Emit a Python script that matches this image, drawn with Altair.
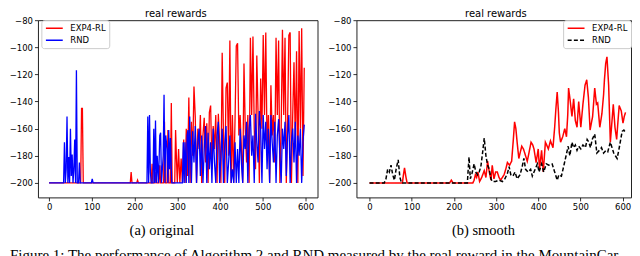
import altair as alt
import pandas as pd

# ---------------- data: (a) original ----------------
SERIES = ["EXP4-RL", "RND"]

orig_red_x_early = [0, 74, 76, 78, 80, 190, 192, 194, 205, 207, 209, 239, 241, 243,
                    248, 250, 252, 257, 259, 261, 268, 270, 272, 276, 278, 280,
                    284, 286, 288, 294, 296, 298]
orig_red_y_early = [-200, -200, -145, -145, -200, -200, -192, -200, -200, -198, -200, -200, -186, -200,
                    -200, -192, -200, -200, -187, -200, -200, -155, -200, -200, -161, -200,
                    -200, -141, -200, -200, -161, -182]
orig_red_dense = [
    -200, -175, -200, -182, -200, -168, -200, -160, -195, -137,
    -200, -155, -180, -129, -151, -200, -160, -175, -150, -200,
    -165, -152, -185, -156, -200, -148, -143, -190, -158, -175,
    -150, -200, -149, -170, -200, -104, -165, -200, -130, -126,
    -180, -95, -200, -150, -200, -155, -99, -97, -165, -150,
    -175, -200, -112, -160, -185, -150, -200, -93, -150, -92,
    -160, -190, -106, -150, -200, -123, -160, -91, -150, -89,
    -175, -150, -200, -128, -165, -150, -185, -93, -150, -95,
    -200, -160, -87, -150, -93, -200, -155, -91, -89, -200,
    -150, -111, -170, -103, -200, -88, -160, -86, -195, -115,
]

orig_blue_x_early = [0, 34, 36, 38, 40, 42, 44, 46, 48, 50, 52, 54, 56, 58, 60, 62, 64, 66,
                     69, 71, 73, 99, 101, 103, 229, 231, 233, 235, 237, 239, 243, 245, 247,
                     249, 251, 253, 256, 259, 261, 263, 267, 269, 271, 273, 276, 278, 280,
                     282, 284, 287, 312, 314, 316, 318, 321, 323, 325, 327, 329, 331, 333]
orig_blue_y_early = [-200, -200, -170, -200, -190, -151, -200, -181, -200, -160, -195, -179, -200, -190,
                     -168, -200, -117, -200, -200, -185, -200, -200, -197, -200, -200, -151, -200,
                     -150, -192, -200, -200, -160, -200, -154, -200, -180, -200, -165, -163, -200,
                     -180, -135, -200, -165, -175, -200, -161, -190, -167, -200, -200, -170, -200,
                     -170, -200, -165, -161, -200, -151, -175, -200]
orig_blue_dense = [
    -162, -185, -158, -200, -170, -160, -195, -165, -200, -175,
    -158, -200, -163, -190, -170, -200, -160, -185, -200, -165,
    -155, -200, -180, -160, -200, -172, -158, -200, -185, -165,
    -200, -190, -200, -170, -200, -175, -200, -160, -185, -200,
    -165, -175, -155, -200, -160, -150, -180, -165, -200, -149,
    -170, -185, -147, -160, -200, -150, -175, -155, -190, -160,
    -200, -150, -170, -185, -155, -200, -165, -153, -180, -200,
    -160, -175, -155, -195, -165, -150, -200, -170, -160, -185,
    -155, -200, -165, -180, -160, -200, -170, -157,
]

# ---------------- data: (b) smooth ----------------
smooth_red_x = [0, 78, 80, 83, 86, 89, 190, 194, 198, 245, 248, 251, 254, 257, 261, 266, 272, 276,
                280, 284, 288, 291, 295, 299, 303, 307, 311, 315, 319, 323, 327, 332, 337, 341,
                344, 347, 350, 354, 357, 361, 365, 370, 374, 378, 383, 387, 390, 395, 400, 403,
                408, 412, 417, 420, 424, 429, 435, 439, 442, 445, 448, 450, 453, 458, 463, 467,
                470, 472, 476, 480, 484, 488, 492, 496, 501, 506, 511, 515, 519, 523, 529, 534,
                538, 541, 546, 551, 555, 557, 560, 563, 567, 571, 575, 578, 582, 586, 589, 592,
                597, 601, 604, 607]
smooth_red_y = [-200, -200, -195, -189, -195, -200, -200, -198, -200, -200, -198, -194, -196, -192,
                -199, -196, -191, -196, -184, -192, -198, -187, -197, -192, -192, -196, -198, -196,
                -194, -190, -185, -187, -184, -168, -155, -160, -170, -182, -178, -173, -175, -180,
                -184, -178, -170, -172, -175, -185, -175, -190, -176, -192, -170, -172, -175, -169,
                -174, -159, -145, -133, -148, -163, -170, -166, -160, -166, -150, -130, -140, -151,
                -138, -154, -159, -140, -159, -142, -128, -124, -137, -161, -151, -130, -142, -141,
                -159, -149, -135, -124, -112, -107, -128, -170, -154, -142, -159, -168, -155, -143,
                -147, -156, -151, -148]

smooth_blk_x = [0, 35, 39, 43, 47, 51, 55, 59, 63, 68, 72, 76, 232, 234, 236, 239, 243, 248, 252,
                256, 260, 264, 268, 272, 276, 280, 284, 288, 291, 299, 307, 315, 321, 327, 331,
                335, 340, 345, 350, 357, 362, 366, 370, 376, 382, 386, 390, 394, 398, 402, 408,
                413, 419, 425, 433, 439, 445, 449, 455, 461, 466, 471, 475, 480, 484, 488, 492,
                496, 501, 506, 512, 516, 520, 524, 528, 534, 539, 545, 550, 555, 561, 565, 571,
                575, 579, 583, 587, 591, 595, 599, 603, 607]
smooth_blk_y = [-200, -200, -197, -190, -192, -187, -194, -198, -190, -183, -196, -200, -200, -190,
                -181, -197, -193, -186, -192, -194, -192, -188, -178, -167, -180, -187, -190, -197,
                -199, -199, -198, -199, -197, -193, -188, -194, -195, -192, -197, -194, -188, -182,
                -190, -192, -190, -195, -192, -189, -186, -192, -186, -192, -186, -187, -186, -192,
                -198, -194, -195, -187, -180, -173, -180, -170, -174, -172, -176, -173, -175, -172,
                -174, -168, -170, -174, -168, -164, -178, -176, -174, -178, -176, -177, -170, -174,
                -178, -180, -182, -176, -169, -162, -161, -163]

X_TICKS = [0, 100, 200, 300, 400, 500, 600]
Y_TICKS = [-80, -100, -120, -140, -160, -180, -200]
PANEL_TITLE = "real rewards"
CAPTION = ("Figure 1: The performance of Algorithm 2 and RND measured by the "
           "real reward in the MountainCar")

# ---------------- frames ----------------
red_o = pd.DataFrame({
    "x": orig_red_x_early + list(range(300, 300 + 3 * len(orig_red_dense), 3)),
    "y": orig_red_y_early + orig_red_dense})
red_o["series"] = "EXP4-RL"
blue_o = pd.DataFrame({
    "x": orig_blue_x_early + list(range(336, 336 + 3 * len(orig_blue_dense), 3)),
    "y": orig_blue_y_early + orig_blue_dense})
blue_o["series"] = "RND"
red_s = pd.DataFrame({"x": smooth_red_x, "y": smooth_red_y, "series": "EXP4-RL"})
blk_s = pd.DataFrame({"x": smooth_blk_x, "y": smooth_blk_y, "series": "RND"})

PH = 177.5
YDOM = [-80 - 183 / 1.4, -80]


def legend(lx, ly):
    return alt.Legend(title=None, orient="none", legendX=lx, legendY=ly,
                      symbolType="stroke", symbolSize=285, symbolStrokeWidth=1.5,
                      labelFont="DejaVu Sans", labelFontSize=8.5, labelColor="black",
                      labelOffset=6.5, padding=3.5, rowPadding=3, clipHeight=9,
                      strokeColor="#cccccc", fillColor="rgba(255,255,255,0.8)",
                      cornerRadius=2.5)


def panel(d1, d2, pw, xdom, colors, dashes, caption_title, cap_x, title_x, lx, ly, sw,
          with_caption):
    x = alt.X("x:Q", scale=alt.Scale(domain=xdom, nice=False, zero=False),
              axis=alt.Axis(values=X_TICKS, title=caption_title, titleX=cap_x, titleY=37.4,
                            titleAlign="center", titleBaseline="alphabetic", labelFlush=False))
    y = alt.Y("y:Q", scale=alt.Scale(domain=YDOM, nice=False, zero=False),
              axis=alt.Axis(values=Y_TICKS, title=None, labelFlush=False))
    lg = legend(lx, ly)
    color = alt.Color("series:N", scale=alt.Scale(domain=SERIES, range=colors), legend=lg)
    dash = alt.StrokeDash("series:N", scale=alt.Scale(domain=SERIES, range=dashes), legend=lg)
    l1 = alt.Chart(d1).mark_line(strokeWidth=sw, clip=True).encode(x=x, y=y, color=color, strokeDash=dash)
    l2 = alt.Chart(d2).mark_line(strokeWidth=sw, clip=True).encode(x=x, y=y, color=color, strokeDash=dash)
    ttl = alt.Chart(pd.DataFrame({"t": [PANEL_TITLE]})).mark_text(
        align="center", baseline="alphabetic", font="DejaVu Sans", fontSize=10,
        color="black").encode(x=alt.value(title_x), y=alt.value(-3.5), text="t:N")
    layers = [l1, l2, ttl]
    if with_caption:
        cap = alt.Chart(pd.DataFrame({"t": [CAPTION]})).mark_text(
            align="left", baseline="alphabetic", font="Liberation Serif", fontSize=15,
            color="black").encode(x=alt.value(-28), y=alt.value(240.5), text="t:N")
        layers.append(cap)
    return alt.layer(*layers).properties(width=pw, height=PH)


left = panel(red_o, blue_o, 280, [-26, 628], ["#ff0000", "#0000ff"], [[1, 0], [1, 0]],
             "(a) original", 123.7, 138.2, 3.4, 0, 1.3, True)
right = panel(red_s, blk_s, 275, [-31, 620], ["#ff0000", "#000000"], [[1, 0], [4, 2.2]],
              "(b) smooth", 126.7, 139.7, 207, 0, 1.5, False)

chart = alt.hconcat(left, right, spacing=39, bounds="flush").resolve_scale(
    color="independent", strokeDash="independent"
).resolve_legend(
    color="independent", strokeDash="independent"
).properties(padding=0).configure_view(
    stroke="#222222", strokeWidth=1
).configure_axis(
    grid=False, domain=False, tickColor="black", tickSize=3.5, tickWidth=0.8,
    labelFont="DejaVu Sans", labelFontSize=8.5, labelColor="black", labelPadding=2,
    titleFont="Liberation Serif", titleFontSize=14.5, titleFontWeight="normal", titleColor="black"
)

chart.save("out.html", embed_options={"renderer": "svg", "actions": False})
